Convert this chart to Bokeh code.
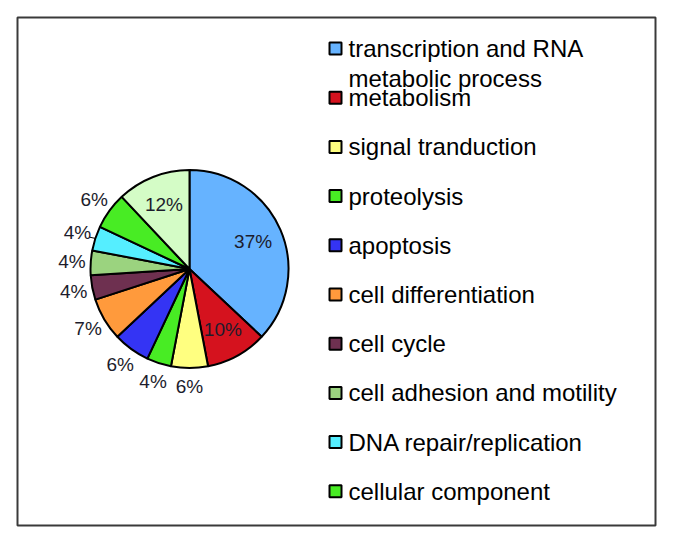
import math
from bokeh.plotting import figure
from bokeh.models import Range1d, ColumnDataSource
from bokeh.core.properties import value
from bokeh.embed import file_html
from bokeh.resources import INLINE

# ---- data ----
categories = [
    "transcription and RNA\nmetabolic process",
    "metabolism",
    "signal tranduction",
    "proteolysis",
    "apoptosis",
    "cell differentiation",
    "cell cycle",
    "cell adhesion and motility",
    "DNA repair/replication",
    "cellular component",
    "other",
]
percents = [37, 10, 6, 4, 6, 7, 4, 4, 4, 6, 12]
colors = ["#66B3FF", "#D5121E", "#FFFF80", "#48EC24", "#3434F4", "#FF9A3C",
          "#6E3050", "#9BD37F", "#55EEFF", "#48EC24", "#D4FCC6"]
legend_shown = 10  # the 12% slice has no visible legend entry

W, H = 657, 528
FONT = "Liberation Sans"

p = figure(width=W, height=H, x_range=Range1d(0, W), y_range=Range1d(0, H),
           output_backend="svg", toolbar_location=None, min_border=0,
           background_fill_color="white", border_fill_color="white")
p.axis.visible = False
p.grid.visible = False
p.outline_line_color = None

def X(img_x):
    return img_x

def Y(img_y):
    return H - img_y

# chart border
p.quad(left=[X(17)], right=[X(655)], bottom=[Y(525)], top=[Y(17)],
       fill_color=None, line_color="#3a3a3a", line_width=2)

# pie
cx, cy, r = X(189), Y(268.5), 99
total = float(sum(percents))
starts, ends, mids = [], [], []
cum = 0.0
for v in percents:
    a0 = 90 - 360 * (cum + v) / total
    a1 = 90 - 360 * cum / total
    starts.append(math.radians(a0))
    ends.append(math.radians(a1))
    mids.append(math.radians((a0 + a1) / 2))
    cum += v

src = ColumnDataSource(dict(start=starts, end=ends, color=colors))
p.wedge(x=cx, y=cy, radius=r, start_angle="start", end_angle="end",
        direction="anticlock", fill_color="color", line_color="black",
        line_width=2, source=src)

# percentage labels
lx, ly, lt = [], [], []
for v, m in zip(percents, mids):
    f = 0.7 if v >= 10 else 1.19
    lx.append(cx + r * f * math.cos(m))
    ly.append(cy + r * f * math.sin(m))
    lt.append(f"{v}%")
p.text(x=lx, y=ly, text=lt, text_font=value(FONT), text_font_size="19px",
       text_color="#1c1c2c", text_align="center", text_baseline="middle")

# leader line for the crowded DNA repair label
i_dna = 8
m = mids[i_dna]
p.segment(x0=[cx + r * math.cos(m)], y0=[cy + r * math.sin(m)],
          x1=[cx + r * 1.06 * math.cos(m)], y1=[cy + r * 1.04 * math.sin(m)],
          line_color="black", line_width=1)

# legend
row0, step = Y(48), 49.2
mk_x, tx_x = X(335), X(348)
for i in range(legend_shown):
    yy = row0 - step * i
    p.rect(x=[mk_x], y=[yy], width=12, height=12, fill_color=colors[i],
           line_color="black", line_width=2)
    lines = categories[i].split("\n")
    for j, line in enumerate(lines):
        p.text(x=[tx_x], y=[yy - 30 * j], text=[line], text_font=value(FONT),
               text_font_size="24px", text_color="black",
               text_align="left", text_baseline="middle")

open("out.html", "w").write(file_html(p, INLINE))
